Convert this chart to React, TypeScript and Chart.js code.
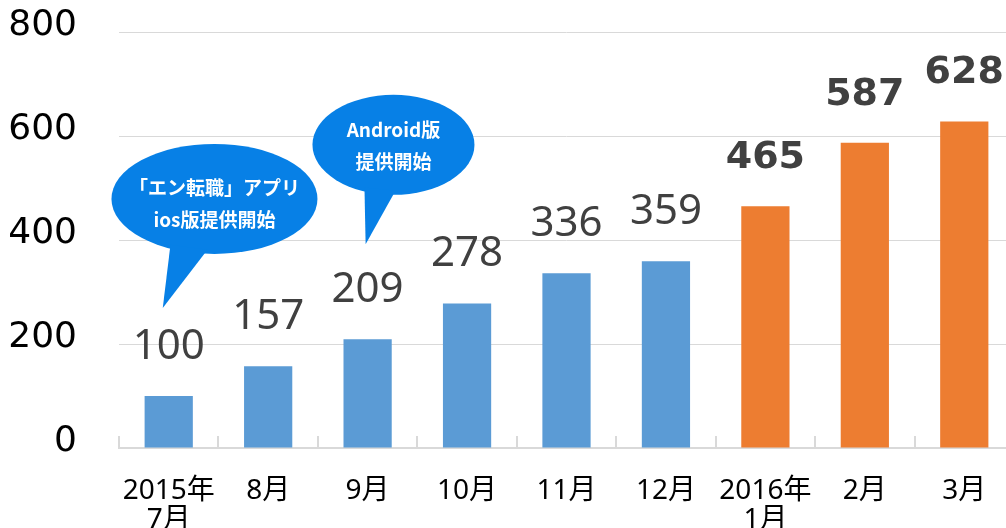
import { useEffect, useRef } from "react";
import { Chart, registerables } from "chart.js";

Chart.register(...registerables);

// ---- data ----
const categories: (string | string[])[] = [
  ["2015年", "7月"],
  "8月",
  "9月",
  "10月",
  "11月",
  "12月",
  ["2016年", "1月"],
  "2月",
  "3月",
];
const users = [100, 157, 209, 278, 336, 359, 465, 587, 628];
const highlightFrom = 6; // index from which bars are orange / labels bold
const yMin = 0;
const yMax = 800;
const yStep = 200;

// callouts, positioned in data units (category index, value)
const callout1Lines = ["「エン転職」アプリ", "ios版提供開始"];
const callout2Lines = ["Android版", "提供開始"];
const callouts = [
  { lines: callout1Lines, cx: 0.46, cy: 479, rx: 103, ry: 55, baseDx: [-44, -7], tipX: -0.06, tipY: 269, lineY: [-11, 21] },
  { lines: callout2Lines, cx: 2.26, cy: 583, rx: 81, ry: 50, baseDx: [-29, 2], tipX: 1.98, tipY: 392, lineY: [-15, 17] },
];

const BLUE = "#5B9BD5";
const ORANGE = "#ED7D31";
const CALLOUT = "#0780E6";

const valueLabels = {
  id: "valueLabels",
  afterDatasetsDraw(chart: any) {
    const ctx = chart.ctx;
    const meta = chart.getDatasetMeta(0);
    meta.data.forEach((bar: any, i: number) => {
      const bold = i >= highlightFrom;
      ctx.save();
      ctx.fillStyle = "#404040";
      ctx.textAlign = "center";
      ctx.textBaseline = "alphabetic";
      ctx.font = bold ? 'bold 38px "DejaVu Sans"' : '42px "Noto Sans"';
      const center = bar.y - 52;
      const base = center + (bold ? 13.9 : 15);
      ctx.fillText(String(users[i]), bar.x, base);
      ctx.restore();
    });
  },
};

const calloutPlugin = {
  id: "callouts",
  afterDatasetsDraw(chart: any) {
    const ctx = chart.ctx;
    const xs = chart.scales.x;
    const ys = chart.scales.y;
    callouts.forEach((c) => {
      const cx = xs.getPixelForValue(c.cx);
      const cy = ys.getPixelForValue(c.cy);
      const tx = xs.getPixelForValue(c.tipX);
      const ty = ys.getPixelForValue(c.tipY);
      ctx.save();
      ctx.fillStyle = CALLOUT;
      ctx.beginPath();
      ctx.ellipse(cx, cy, c.rx, c.ry, 0, 0, Math.PI * 2);
      ctx.fill();
      const [d1, d2] = c.baseDx;
      const by1 = cy + c.ry * Math.sqrt(1 - (d1 / c.rx) ** 2) - 4;
      const by2 = cy + c.ry * Math.sqrt(1 - (d2 / c.rx) ** 2) - 4;
      ctx.beginPath();
      ctx.moveTo(cx + d1, by1);
      ctx.lineTo(tx, ty);
      ctx.lineTo(cx + d2, by2);
      ctx.closePath();
      ctx.fill();
      ctx.fillStyle = "#ffffff";
      ctx.textAlign = "center";
      ctx.textBaseline = "middle";
      ctx.font = 'bold 19px "Noto Sans CJK JP", "Noto Sans", sans-serif';
      c.lines.forEach((t, k) => {
        ctx.fillText(t, cx, cy + c.lineY[k]);
      });
      ctx.restore();
    });
  },
};

export default function App() {
  const ref = useRef<HTMLCanvasElement | null>(null);

  useEffect(() => {
    if (!ref.current) return;
    const chart = new Chart(ref.current, {
      type: "bar",
      data: {
        labels: categories,
        datasets: [
          {
            data: users,
            backgroundColor: users.map((_, i) => (i >= highlightFrom ? ORANGE : BLUE)),
            barPercentage: 0.97,
            categoryPercentage: 0.5,
          },
        ],
      },
      options: {
        responsive: false,
        animation: false,
        layout: { padding: { left: 0, right: 6, top: 32, bottom: 0 } },
        plugins: {
          legend: { display: false },
          tooltip: { enabled: false },
        },
        scales: {
          x: {
            grid: {
              display: true,
              drawOnChartArea: false,
              drawTicks: true,
              tickLength: -12,
              color: "#d9d9d9",
              lineWidth: 2,
            },
            border: { display: true, color: "#d9d9d9", width: 2 },
            ticks: {
              color: "#000000",
              font: { family: '"Noto Sans", "Noto Sans CJK JP", sans-serif', size: 28, lineHeight: 1.05 },
              padding: 40,
              maxRotation: 0,
              autoSkip: false,
            },
            afterFit: (scale: any) => {
              scale.height = 80;
              scale.paddingLeft = 0;
              scale.paddingRight = 0;
            },
          },
          y: {
            min: yMin,
            max: yMax,
            grid: { color: "#d9d9d9", lineWidth: 1, drawTicks: false },
            border: { display: false },
            ticks: {
              stepSize: yStep,
              color: "#000000",
              font: { family: '"DejaVu Sans", sans-serif', size: 36 },
              padding: 42,
              labelOffset: -6,
            },
            afterFit: (scale: any) => {
              scale.width = 119;
              scale.paddingTop = 0;
              scale.paddingBottom = 0;
            },
          },
        },
      },
      plugins: [calloutPlugin, valueLabels],
    });
    return () => chart.destroy();
  }, []);

  return (
    <div style={{ position: "fixed", left: 0, top: 0, width: 1006, height: 528, overflow: "hidden", background: "#fff" }}>
      <canvas ref={ref} width={1020} height={528} style={{ display: "block" }} />
    </div>
  );
}
